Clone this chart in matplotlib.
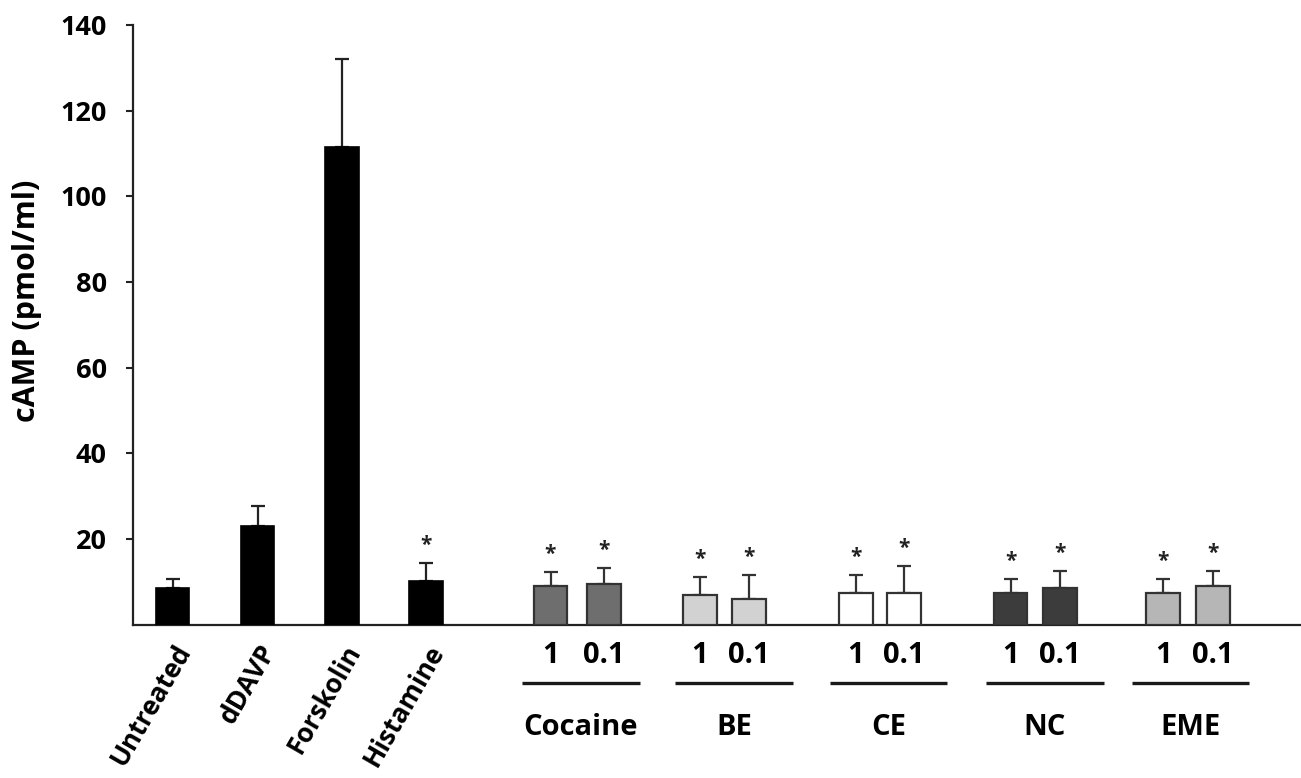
import matplotlib.pyplot as plt
import matplotlib.transforms as mtransforms

plt.rcParams['font.family'] = ['Open Sans', 'DejaVu Sans']
plt.rcParams['font.weight'] = 'bold'

# controls
controls = ['Untreated', 'dDAVP', 'Forskolin', 'Histamine']
control_mean = [8.6, 23.1, 111.6, 10.2]
control_err = [2.1, 4.6, 20.5, 4.2]
control_sig = [False, False, False, True]

# compounds, two doses each (1 and 0.1)
compounds = ['Cocaine', 'BE', 'CE', 'NC', 'EME']
doses = ['1', '0.1']
compound_mean = [[9.0, 9.5], [6.8, 5.9], [7.4, 7.4], [7.4, 8.5], [7.4, 8.9]]
compound_err = [[3.2, 3.6], [4.3, 5.7], [4.2, 6.3], [3.2, 4.1], [3.2, 3.7]]
compound_sig = [[True, True], [True, True], [True, True], [True, True], [True, True]]
compound_colors = ['#6e6e6e', '#d2d2d2', '#ffffff', '#3c3c3c', '#b6b6b6']

yticks = [20, 40, 60, 80, 100, 120, 140]

# x layout
control_x = [0, 1.006, 2.006, 3.0]
compound_x = [[4.473, 5.107], [6.237, 6.822], [8.083, 8.657], [9.917, 10.5], [11.722, 12.308]]
group_x = [4.832, 6.645, 8.475, 10.325, 12.047]
bar_w = 0.40
line_half = 0.695

fig = plt.figure(figsize=(13.01, 7.78), dpi=100)
ax = fig.add_axes([0.1025, 0.1973, 0.8968, 0.7706])

ax.bar(control_x, control_mean, width=bar_w, color='black', edgecolor='black',
       linewidth=1.2, zorder=3)
ax.errorbar(control_x, control_mean, yerr=[[0] * 4, control_err], fmt='none',
            ecolor='#222222', elinewidth=1.6, capsize=5, capthick=1.6, zorder=2)

for xs, means, errs, col in zip(compound_x, compound_mean, compound_err, compound_colors):
    ax.bar(xs, means, width=bar_w, color=col, edgecolor='#333333', linewidth=1.6, zorder=3)
    ax.errorbar(xs, means, yerr=[[0, 0], errs], fmt='none', ecolor='#333333',
                elinewidth=1.6, capsize=5, capthick=1.6, zorder=2)

# significance stars
star_pts = list(zip(control_x, control_mean, control_err, control_sig))
for xs, means, errs, sig in zip(compound_x, compound_mean, compound_err, compound_sig):
    star_pts += list(zip(xs, means, errs, sig))
for x, m, e, s in star_pts:
    if s:
        ax.annotate('*', xy=(x, m + e), xytext=(0, 7), textcoords='offset pixels',
                    ha='center', va='bottom', fontsize=15, color='#222222')

ax.set_xlim(-0.464, 13.343)
ax.set_ylim(0, 140)
ax.set_yticks(yticks)
ax.set_xticks([])
ax.tick_params(axis='y', direction='out', length=5, width=1.5, pad=14,
               labelsize=19.5, color='#222222')
for lab in ax.get_yticklabels():
    lab.set_fontweight('bold')
for side in ['top', 'right']:
    ax.spines[side].set_visible(False)
for side in ['left', 'bottom']:
    ax.spines[side].set_linewidth(1.6)
    ax.spines[side].set_color('#222222')

ax.set_ylabel('cAMP (pmol/ml)', fontsize=22, fontweight='bold')
ax.yaxis.set_label_coords(-0.078, 0.54)

# rotated control names
for x, name in zip(control_x, controls):
    ax.annotate(name, xy=(x, 0), xytext=(12, -22), textcoords='offset pixels',
                ha='right', va='center', rotation=60, rotation_mode='anchor',
                fontsize=19, fontweight='bold')

# dose labels, underlines and compound names
trans = mtransforms.blended_transform_factory(ax.transData, ax.transAxes)
for xs, gx, name in zip(compound_x, group_x, compounds):
    for x, d in zip(xs, doses):
        ax.annotate(d, xy=(x, 0), xytext=(0, -31), textcoords='offset pixels',
                    ha='center', va='center', fontsize=21, fontweight='bold')
    ax.plot([gx - line_half, gx + line_half], [-0.0976, -0.0976], transform=trans,
            color='#1a1a1a', linewidth=2.4, clip_on=False, solid_capstyle='butt')
    ax.annotate(name, xy=(gx, 0), xytext=(0, -103), textcoords='offset pixels',
                ha='center', va='center', fontsize=21, fontweight='bold')

fig.savefig('out.png', dpi=100)
